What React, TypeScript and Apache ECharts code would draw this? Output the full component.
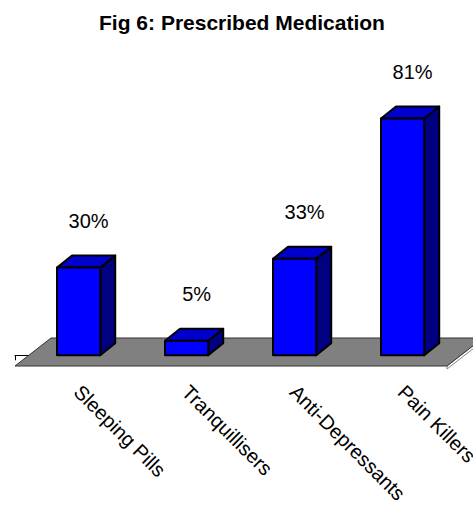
import React, { useEffect, useRef } from "react";
import * as echarts from "echarts";

const titleText = "Fig 6: Prescribed Medication";
const categories = ["Sleeping Pills", "Tranquillisers", "Anti-Depressants", "Pain Killers"];
const values = [30, 5, 33, 81];
const yMin = -4;
const yMax = 100;

const FONT = "'Liberation Sans', Arial, sans-serif";

export default function App() {
  const ref = useRef<HTMLDivElement>(null);
  useEffect(() => {
    if (!ref.current) return;
    const chart = echarts.init(ref.current, null, { renderer: "svg" });
    const option: any = {
      animation: false,
      backgroundColor: "#ffffff",
      title: {
        text: titleText,
        left: 237,
        top: 7,
        textAlign: "center",
        textStyle: { fontSize: 21, fontWeight: "bold", fontFamily: FONT, color: "#000" },
      },
      grid: {
        left: 15,
        top: 63,
        width: 432,
        height: 304,
        containLabel: false,
        outerBoundsMode: "none",
      },
      xAxis: {
        type: "category",
        data: categories,
        boundaryGap: true,
        axisLine: { show: true, lineStyle: { color: "#000", width: 1 } },
        axisTick: { show: true, length: 5, lineStyle: { color: "#000" } },
        axisLabel: {
          interval: 0,
          rotate: -45,
          margin: 13,
          padding: [0, 0, 0, 12],
          fontSize: 20,
          fontFamily: FONT,
          color: "#000",
        },
        splitLine: { show: false },
      },
      yAxis: {
        type: "value",
        min: yMin,
        max: yMax,
        show: false,
        splitLine: { show: false },
      },
      series: [
        {
          type: "custom",
          z: 1,
          data: [[0, 0]],
          encode: { x: 0, y: 1 },
          renderItem: (params: any) => {
            const cs = params.coordSys;
            const fy = cs.y + cs.height - 1;
            const x0 = cs.x;
            const x1 = cs.x + cs.width;
            const dx = 36;
            const dy = -28;
            return {
              type: "group",
              children: [
                {
                  type: "polygon",
                  shape: { points: [[x1, fy], [x1 + dx, fy + dy], [x1 + dx, fy + dy + 3], [x1, fy + 3]] },
                  style: { fill: "#ffffff", stroke: "#808080", lineWidth: 1 },
                },
                {
                  type: "polygon",
                  shape: { points: [[x0, fy], [x1, fy], [x1 + dx, fy + dy], [x0 + dx, fy + dy]] },
                  style: { fill: "#808080", stroke: "#333333", lineWidth: 1 },
                },
              ],
            };
          },
        },
        {
          type: "custom",
          z: 2,
          data: values.map((v, i) => [i, v]),
          encode: { x: 0, y: 1 },
          renderItem: (params: any, api: any) => {
            const idx = api.value(0);
            const v = api.value(1);
            const top = api.coord([idx, v]);
            const base = api.coord([idx, 0]);
            const bw = params.coordSys.width / categories.length;
            const w = bw * 0.4;
            const x0 = top[0] - bw * 0.111;
            const dx = 15;
            const dy = -12;
            const yT = top[1];
            const yB = base[1];
            const stroke = { stroke: "#000", lineWidth: 2, lineJoin: "round" };
            return {
              type: "group",
              children: [
                {
                  type: "polygon",
                  shape: { points: [[x0 + w, yT], [x0 + w + dx, yT + dy], [x0 + w + dx, yB + dy], [x0 + w, yB]] },
                  style: { fill: "#000080", ...stroke },
                },
                {
                  type: "polygon",
                  shape: { points: [[x0, yT], [x0 + dx, yT + dy], [x0 + w + dx, yT + dy], [x0 + w, yT]] },
                  style: { fill: "#0000CC", ...stroke },
                },
                {
                  type: "polygon",
                  shape: { points: [[x0, yT], [x0 + w, yT], [x0 + w, yB], [x0, yB]] },
                  style: { fill: "#0000FF", ...stroke },
                },
                {
                  type: "text",
                  style: {
                    text: `${v}%`,
                    x: x0 + w / 2 + 10,
                    y: yT - 47,
                    align: "center",
                    verticalAlign: "middle",
                    fontSize: 20,
                    fontFamily: FONT,
                    fill: "#000",
                  },
                },
              ],
            };
          },
        },
      ],
    };
    chart.setOption(option);
    return () => chart.dispose();
  }, []);
  return (
    <div
      ref={ref}
      style={{ position: "absolute", left: 0, top: 0, width: 473, height: 508 }}
    />
  );
}
